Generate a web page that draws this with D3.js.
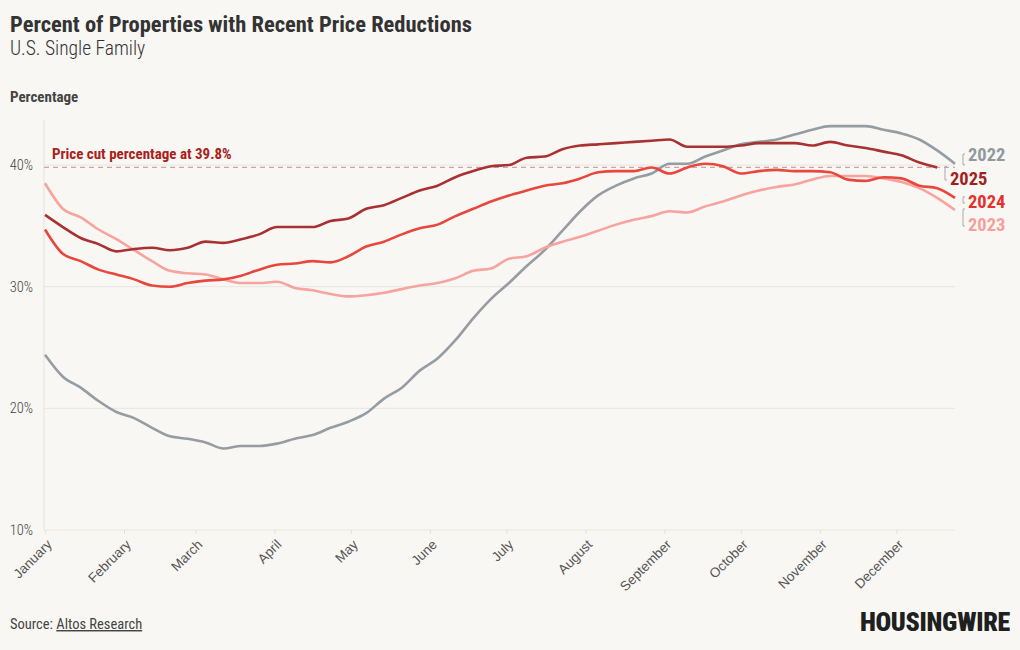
<!DOCTYPE html>
<html>
<head>
<meta charset="utf-8">
<script src="https://cdn.jsdelivr.net/npm/d3@7"></script>
<style>
  body { margin: 0; background: #f9f7f3; }
  svg { display: block; font-family: "Roboto Condensed", "Liberation Sans Narrow", Roboto, sans-serif; }
</style>
</head>
<body>
<div id="chart"></div>
<script>
// weekly readings, first week of January onward
const years = ["2022", "2023", "2024", "2025"];

const values2022 = [24.4, 22.6, 21.7, 20.6, 19.7, 19.2, 18.4, 17.7, 17.5, 17.2, 16.7, 16.9, 16.9, 17.1,
  17.5, 17.8, 18.4, 18.9, 19.6, 20.8, 21.7, 23.1, 24.1, 25.6, 27.4, 29.0, 30.3, 31.7, 33.0, 34.6,
  36.2, 37.5, 38.3, 38.9, 39.3, 40.1, 40.1, 40.7, 41.2, 41.7, 41.9, 42.1, 42.5, 42.9, 43.2, 43.2,
  43.2, 42.9, 42.6, 42.1, 41.2, 40.1];

const values2023 = [38.5, 36.4, 35.7, 34.7, 33.9, 33.0, 32.1, 31.3, 31.1, 31.0, 30.6, 30.3, 30.3, 30.4,
  29.9, 29.7, 29.4, 29.2, 29.3, 29.5, 29.8, 30.1, 30.3, 30.7, 31.3, 31.5, 32.3, 32.5, 33.2, 33.7,
  34.1, 34.6, 35.1, 35.5, 35.8, 36.2, 36.1, 36.6, 37.0, 37.5, 37.9, 38.2, 38.4, 38.8, 39.1, 39.1,
  39.1, 38.9, 38.6, 38.1, 37.3, 36.3];

const values2024 = [34.7, 32.7, 32.1, 31.4, 31.0, 30.6, 30.1, 30.0, 30.3, 30.5, 30.6, 30.9, 31.4, 31.8,
  31.9, 32.1, 32.0, 32.5, 33.3, 33.7, 34.3, 34.8, 35.1, 35.8, 36.4, 37.0, 37.5, 37.9, 38.3, 38.5,
  38.9, 39.4, 39.5, 39.5, 39.8, 39.3, 39.8, 40.1, 39.9, 39.3, 39.5, 39.6, 39.5, 39.5, 39.4, 38.8,
  38.7, 39.0, 38.9, 38.3, 38.1, 37.3];

const values2025 = [35.9, 34.9, 34.0, 33.5, 32.9, 33.1, 33.2, 33.0, 33.2, 33.7, 33.6, 33.9, 34.3, 34.9,
  34.9, 34.9, 35.4, 35.6, 36.4, 36.7, 37.3, 37.9, 38.3, 39.0, 39.5, 39.9, 40.0, 40.6, 40.7, 41.3,
  41.6, 41.7, 41.8, 41.9, 42.0, 42.1, 41.5, 41.5, 41.5, 41.6, 41.8, 41.8, 41.8, 41.6, 41.9, 41.6,
  41.4, 41.1, 40.8, 40.2, 39.8];

const seriesValues = [values2022, values2023, values2024, values2025];
const lineColors = ["#959da2", "#f7a39e", "#e8473d", "#a83232"];
const labelColors = ["#8f999e", "#f5a09b", "#e3312b", "#a31f1f"];
const yTicks = [10, 20, 30, 40];
const currentCut = 39.8;

const width = 1020, height = 650;
const svg = d3.select("#chart").append("svg")
  .attr("width", width)
  .attr("height", height);

svg.append("rect").attr("width", width).attr("height", height).attr("fill", "#f9f7f3");

const start = new Date(2025, 0, 1);
const weekDate = (i) => d3.timeDay.offset(start, i * 7);

const x = d3.scaleTime()
  .domain([start, weekDate(51)])
  .range([45, 955]);
const y = d3.scaleLinear()
  .domain([10, 43.7])
  .range([530, 120]);

// titles
svg.append("text").attr("x", 10).attr("y", 32)
  .attr("font-size", 22.5).attr("font-weight", "bold").attr("fill", "#333")
  .text("Percent of Properties with Recent Price Reductions");
svg.append("text").attr("x", 10).attr("y", 55)
  .attr("font-size", 19.5).attr("font-weight", 300).attr("fill", "#333")
  .text("U.S. Single Family");
svg.append("text").attr("x", 10).attr("y", 102)
  .attr("font-size", 15).attr("font-weight", "bold").attr("fill", "#444")
  .text("Percentage");

// gridlines + y labels
const yAxis = svg.append("g");
yAxis.selectAll("line").data(yTicks).enter().append("line")
  .attr("x1", 44).attr("x2", 955)
  .attr("y1", d => y(d)).attr("y2", d => y(d))
  .attr("stroke", "#e9e6e1").attr("stroke-width", 1);
yAxis.selectAll("text").data(yTicks).enter().append("text")
  .attr("x", 33).attr("y", d => y(d)).attr("dy", "0.35em")
  .attr("text-anchor", "end").attr("font-size", 14.5).attr("font-weight", 300).attr("fill", "#444")
  .text(d => d + "%");
svg.append("line")
  .attr("x1", 44).attr("x2", 44).attr("y1", y(43.7)).attr("y2", y(10))
  .attr("stroke", "#e6e3de");

// x axis
const xAxis = svg.append("g")
  .attr("transform", "translate(0," + y(10) + ")")
  .call(d3.axisBottom(x).ticks(d3.timeMonth.every(1)).tickFormat(d3.timeFormat("%B")).tickSize(4));
xAxis.select(".domain").remove();
xAxis.selectAll(".tick line").attr("stroke", "#e4e1dc");
xAxis.selectAll(".tick text")
  .attr("font-family", "inherit")
  .attr("font-size", 13.5).attr("fill", "#555")
  .attr("text-anchor", "end")
  .attr("x", 0).attr("y", 0)
  .attr("transform", "translate(4,12) rotate(-45)")
  .attr("dy", "0.35em").attr("dx", "0");

// reference line
svg.append("line")
  .attr("x1", 44).attr("x2", 955)
  .attr("y1", y(currentCut)).attr("y2", y(currentCut))
  .attr("stroke", "#cfa3a3").attr("stroke-width", 1.3)
  .attr("stroke-dasharray", "5,4");
svg.append("text").attr("x", 52).attr("y", y(currentCut) - 8)
  .attr("font-size", 15).attr("font-weight", "bold").attr("fill", "#a8221c")
  .text("Price cut percentage at " + currentCut + "%");

// lines
const line = d3.line()
  .x((d, i) => x(weekDate(i)))
  .y(d => y(d))
  .curve(d3.curveMonotoneX);

svg.append("g").selectAll("path").data(seriesValues).enter().append("path")
  .attr("d", line)
  .attr("fill", "none")
  .attr("stroke", (d, i) => lineColors[i])
  .attr("stroke-width", 2.6)
  .attr("stroke-linejoin", "round");

// end labels with little connectors
const labelY = [155, 225, 202, 179];
const labelX = [968, 968, 968, 950];
const labels = svg.append("g");
seriesValues.forEach((vals, i) => {
  const last = vals.length - 1;
  const ey = y(vals[last]);
  const lx = labelX[i] - 5;
  const y1 = Math.min(ey, labelY[i]) - 1, y2 = Math.max(ey, labelY[i]) + 1;
  labels.append("path")
    .attr("d", "M" + (lx + 2) + "," + y1 + "H" + lx + "V" + y2 + "H" + (lx + 2))
    .attr("fill", "none").attr("stroke", "#aaa").attr("stroke-width", 1);
  labels.append("text")
    .attr("x", labelX[i]).attr("y", labelY[i]).attr("dy", "0.35em")
    .attr("font-size", 18.5).attr("font-weight", "bold")
    .attr("fill", labelColors[i])
    .text(years[i]);
});

// footer
const src = svg.append("text").attr("x", 10).attr("y", 629)
  .attr("font-size", 14.5).attr("fill", "#444");
src.append("tspan").text("Source: ");
src.append("tspan").attr("text-decoration", "underline").text("Altos Research");

svg.append("text").attr("x", 1010).attr("y", 631)
  .attr("text-anchor", "end")
  .attr("font-size", 26).attr("font-weight", 900).attr("fill", "#1d1f20")
  .attr("letter-spacing", -0.3)
  .text("HOUSINGWIRE");
</script>
</body>
</html>
